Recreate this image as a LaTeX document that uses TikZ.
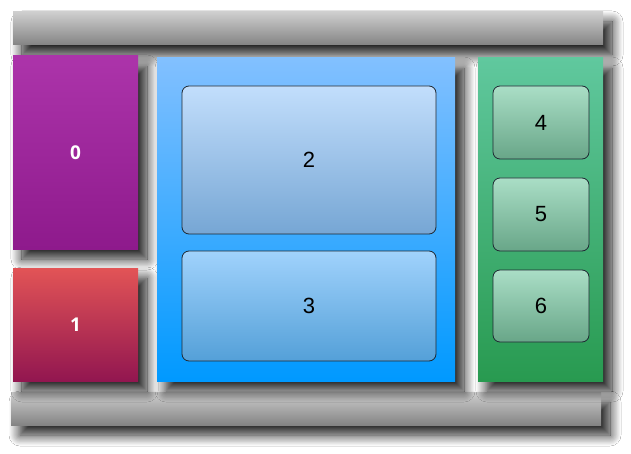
\documentclass[tikz,border=0pt]{standalone}
\usepackage{fontspec}
\setmainfont{Liberation Sans}
\newfontfamily\boldlab{Open Sans}
\usetikzlibrary{shadows.blur}
\definecolor{barT}{RGB}{206,206,206}
\definecolor{barB}{RGB}{132,132,132}
\definecolor{purT}{RGB}{172,52,170}
\definecolor{purB}{RGB}{142,26,140}
\definecolor{redT}{RGB}{226,84,86}
\definecolor{redB}{RGB}{146,22,80}
\definecolor{bluT}{RGB}{130,192,255}
\definecolor{bluB}{RGB}{0,153,255}
\definecolor{in2T}{RGB}{194,222,252}
\definecolor{in2B}{RGB}{118,166,212}
\definecolor{in3T}{RGB}{160,210,252}
\definecolor{in3B}{RGB}{84,160,216}
\definecolor{grnT}{RGB}{96,200,158}
\definecolor{grnB}{RGB}{40,154,80}
\definecolor{ingT}{RGB}{170,222,198}
\definecolor{ingB}{RGB}{104,166,136}
\definecolor{edge}{RGB}{30,40,50}
\tikzset{
  panel/.style={rectangle, inner sep=0pt, outer sep=0pt, draw=none,
    blur shadow={shadow xshift=9pt, shadow yshift=-10pt, shadow blur radius=11pt, shadow blur steps=16, shadow opacity=90}},
  card/.style={rectangle, rounded corners=7pt, inner sep=0pt, outer sep=0pt, draw=edge, line width=0.8pt,
    font=\fontsize{22}{26}\selectfont},
  whitelab/.style={text=white, font=\boldlab\bfseries\fontsize{19}{22}\selectfont}
}
\begin{document}
\begin{tikzpicture}[x=1pt,y=-1pt]
\useasboundingbox[fill=white] (0,0) rectangle (631,454);
\node[panel, top color=barT, bottom color=barB, minimum width=590pt, minimum height=33pt] (topbar) at (308,28.5) {};
\node[panel, top color=barT, bottom color=barB, minimum width=590pt, minimum height=33pt] (botbar) at (306,408.5) {};
\node[panel, top color=purT, bottom color=purB, minimum width=125pt, minimum height=193pt, whitelab] (b0) at (75.5,152.5) {0};
\node[panel, top color=redT, bottom color=redB, minimum width=125pt, minimum height=113pt, whitelab] (b1) at (75.5,324.5) {1};
\node[panel, top color=bluT, bottom color=bluB, minimum width=298pt, minimum height=323pt] (blue) at (306,219.5) {};
\node[panel, top color=grnT, bottom color=grnB, minimum width=125pt, minimum height=323pt] (green) at (540.5,219.5) {};
\node[card, top color=in2T, bottom color=in2B, minimum width=254pt, minimum height=148pt] (b2) at (309,160) {2};
\node[card, top color=in3T, bottom color=in3B, minimum width=254pt, minimum height=110pt] (b3) at (309,306) {3};
\node[card, top color=ingT, bottom color=ingB, minimum width=96pt, minimum height=73pt] (b4) at (541,122.5) {4};
\node[card, top color=ingT, bottom color=ingB, minimum width=96pt, minimum height=73pt] (b5) at (541,214.5) {5};
\node[card, top color=ingT, bottom color=ingB, minimum width=96pt, minimum height=72pt] (b6) at (541,306) {6};
\end{tikzpicture}
\end{document}
